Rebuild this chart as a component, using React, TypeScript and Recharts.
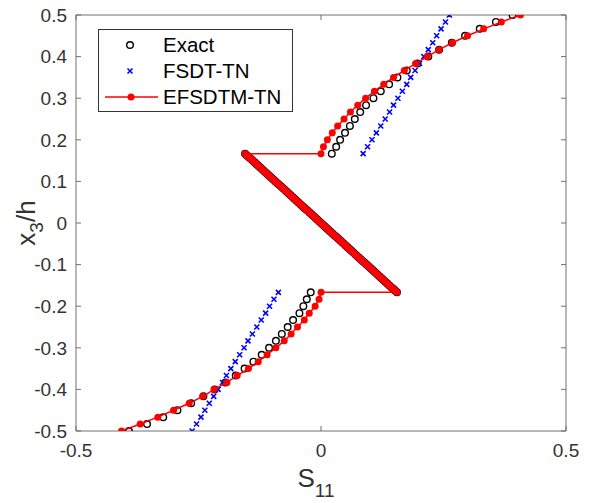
import React from 'react';
import { ScatterChart, Scatter, XAxis, YAxis, ReferenceLine } from 'recharts';

// ---------- data ----------
const topY = [0.1667, 0.1833, 0.2, 0.2167, 0.2333, 0.25, 0.2667, 0.2833, 0.3, 0.3167, 0.3333, 0.35, 0.3667, 0.3833, 0.4, 0.4167, 0.4333, 0.45, 0.4667, 0.4833, 0.5];
const botY = [-0.5, -0.4833, -0.4667, -0.45, -0.4333, -0.4167, -0.4, -0.3833, -0.3667, -0.35, -0.3333, -0.3167, -0.3, -0.2833, -0.2667, -0.25, -0.2333, -0.2167, -0.2, -0.1833, -0.1667];
const midY = [
  -0.1667, -0.1625, -0.1583, -0.1542, -0.15, -0.1458, -0.1417, -0.1375, -0.1333, -0.1292,
  -0.125, -0.1208, -0.1167, -0.1125, -0.1083, -0.1042, -0.1, -0.0958, -0.0917, -0.0875,
  -0.0833, -0.0792, -0.075, -0.0708, -0.0667, -0.0625, -0.0583, -0.0542, -0.05, -0.0458,
  -0.0417, -0.0375, -0.0333, -0.0292, -0.025, -0.0208, -0.0167, -0.0125, -0.0083, -0.0042,
  0,
  0.0042, 0.0083, 0.0125, 0.0167, 0.0208, 0.025, 0.0292, 0.0333, 0.0375, 0.0417,
  0.0458, 0.05, 0.0542, 0.0583, 0.0625, 0.0667, 0.0708, 0.075, 0.0792, 0.0833,
  0.0875, 0.0917, 0.0958, 0.1, 0.1042, 0.1083, 0.1125, 0.1167, 0.1208, 0.125,
  0.1292, 0.1333, 0.1375, 0.1417, 0.1458, 0.15, 0.1542, 0.1583, 0.1625, 0.1667,
];

// S11 values, middle layer (shared by the three solutions)
const midS = [
  0.155, 0.1511, 0.1472, 0.1434, 0.1395, 0.1356, 0.1318, 0.1279, 0.124, 0.1202,
  0.1163, 0.1124, 0.1085, 0.1046, 0.1008, 0.0969, 0.093, 0.0891, 0.0853, 0.0814,
  0.0775, 0.0736, 0.0698, 0.0659, 0.062, 0.0581, 0.0543, 0.0504, 0.0465, 0.0426,
  0.0388, 0.0349, 0.031, 0.0271, 0.0233, 0.0194, 0.0155, 0.0116, 0.0078, 0.0039,
  0,
  -0.0039, -0.0078, -0.0116, -0.0155, -0.0194, -0.0233, -0.0271, -0.031, -0.0349, -0.0388,
  -0.0426, -0.0465, -0.0504, -0.0543, -0.0581, -0.062, -0.0659, -0.0698, -0.0736, -0.0775,
  -0.0814, -0.0853, -0.0891, -0.093, -0.0969, -0.1008, -0.1046, -0.1085, -0.1124, -0.1163,
  -0.1202, -0.124, -0.1279, -0.1318, -0.1356, -0.1395, -0.1434, -0.1472, -0.1511, -0.155,
];

// Exact
const exactTop = [0.022, 0.031, 0.039, 0.049, 0.059, 0.069, 0.08, 0.092, 0.107, 0.122, 0.139, 0.156, 0.175, 0.197, 0.219, 0.241, 0.267, 0.294, 0.324, 0.357, 0.391];
const exactBot = [-0.392, -0.355, -0.322, -0.293, -0.265, -0.24, -0.217, -0.195, -0.174, -0.156, -0.138, -0.121, -0.106, -0.092, -0.08, -0.068, -0.057, -0.044, -0.036, -0.029, -0.021];

// FSDT-TN
const fsdtTop = [0.086, 0.095, 0.104, 0.113, 0.122, 0.131, 0.14, 0.148, 0.157, 0.166, 0.175, 0.183, 0.192, 0.201, 0.21, 0.219, 0.228, 0.236, 0.245, 0.254, 0.262];
const fsdtBot = [-0.263, -0.254, -0.245, -0.237, -0.228, -0.219, -0.21, -0.201, -0.193, -0.184, -0.175, -0.166, -0.157, -0.149, -0.14, -0.131, -0.122, -0.113, -0.105, -0.096, -0.087];

// EFSDTM-TN
const efTop = [0, 0.005, 0.013, 0.023, 0.034, 0.047, 0.06, 0.075, 0.091, 0.109, 0.128, 0.148, 0.17, 0.193, 0.217, 0.241, 0.268, 0.299, 0.332, 0.368, 0.407];
const efBot = [-0.407, -0.369, -0.333, -0.301, -0.269, -0.241, -0.218, -0.192, -0.171, -0.148, -0.128, -0.11, -0.092, -0.075, -0.061, -0.048, -0.034, -0.024, -0.012, -0.004, 0];

const xTicks = [-0.5, 0, 0.5];
const yTicks = [-0.5, -0.4, -0.3, -0.2, -0.1, 0, 0.1, 0.2, 0.3, 0.4, 0.5];
const legendLabels = ['Exact', 'FSDT-TN', 'EFSDTM-TN'];

const build = (bot: number[], mid: number[], top: number[]) => [
  ...bot.map((s, i) => ({ s, y: botY[i] })),
  ...mid.map((s, i) => ({ s, y: midY[i] })),
  ...top.map((s, i) => ({ s, y: topY[i] })),
];
const exactData = build(exactBot, midS, exactTop);
const fsdtData = build(fsdtBot, midS, fsdtTop);
const efData = build(efBot, midS, efTop);

// ---------- layout / style ----------
const W = 591;
const H = 503;
const PL = 76, PT = 15, PR = 566, PB = 431;
const FONT = '"Liberation Sans", Arial, Helvetica, sans-serif';
const AX = '#707070';
const TXT = '#333';
const RED = '#ff0000';
const BLUE = '#0000ff';

const fmt = (v: number) => (Math.abs(v) < 1e-9 ? '0' : v.toFixed(1));

const XTick = (p: any) => {
  const { x, y, payload } = p;
  return (
    <g>
      <line x1={x} y1={PB} x2={x} y2={PB - 5} stroke={AX} strokeWidth={1} />
      <line x1={x} y1={PT} x2={x} y2={PT + 5} stroke={AX} strokeWidth={1} />
      <text x={x} y={y} dy="0.71em" textAnchor="middle" fontFamily={FONT} fontSize={19} fill={TXT}>
        {fmt(payload.value)}
      </text>
    </g>
  );
};

const YTick = (p: any) => {
  const { x, y, payload } = p;
  return (
    <g>
      <line x1={PL} y1={y} x2={PL + 5} y2={y} stroke={AX} strokeWidth={1} />
      <line x1={PR} y1={y} x2={PR - 5} y2={y} stroke={AX} strokeWidth={1} />
      <text x={x} y={y} dy="0.355em" textAnchor="end" fontFamily={FONT} fontSize={19} fill={TXT}>
        {fmt(payload.value)}
      </text>
    </g>
  );
};

const ExactShape = (p: any) => (
  <circle cx={p.cx} cy={p.cy} r={3.3} fill="none" stroke="#000" strokeWidth={1.4} />
);
const FsdtShape = (p: any) => {
  const d = 2.5;
  return (
    <path
      d={`M${p.cx - d},${p.cy - d}L${p.cx + d},${p.cy + d}M${p.cx - d},${p.cy + d}L${p.cx + d},${p.cy - d}`}
      stroke={BLUE}
      strokeWidth={1.6}
      fill="none"
    />
  );
};
const EfShape = (p: any) => <circle cx={p.cx} cy={p.cy} r={3.5} fill={RED} />;

export default function App() {
  return (
    <div style={{ position: 'absolute', left: 0, top: 0, width: W, height: H, background: '#fff' }}>
      <ScatterChart width={W} height={H} margin={{ top: PT, right: W - PR, bottom: 0, left: 0 }}>
        <XAxis
          type="number"
          dataKey="s"
          domain={[-0.5, 0.5]}
          ticks={xTicks}
          interval={0}
          height={H - PB}
          tickSize={0}
          tickMargin={13}
          tickLine={false}
          axisLine={{ stroke: AX, strokeWidth: 1 }}
          tick={XTick}
          allowDataOverflow
        />
        <YAxis
          type="number"
          dataKey="y"
          domain={[-0.5, 0.5]}
          ticks={yTicks}
          interval={0}
          width={PL}
          tickSize={0}
          tickMargin={9}
          tickLine={false}
          axisLine={{ stroke: AX, strokeWidth: 1 }}
          tick={YTick}
          allowDataOverflow
        />
        <ReferenceLine y={0.5} stroke={AX} strokeWidth={1} />
        <ReferenceLine x={0.5} stroke={AX} strokeWidth={1} />
        <Scatter name="Exact" data={exactData} shape={ExactShape} isAnimationActive={false} />
        <Scatter name="FSDT-TN" data={fsdtData} shape={FsdtShape} isAnimationActive={false} />
        <Scatter
          name="EFSDTM-TN"
          data={efData}
          shape={EfShape}
          line={{ stroke: RED, strokeWidth: 1.5 }}
          lineType="joint"
          isAnimationActive={false}
        />
      </ScatterChart>
      <svg
        width={W}
        height={H}
        style={{ position: 'absolute', left: 0, top: 0, pointerEvents: 'none' }}
      >
        {/* legend */}
        <rect x={98.5} y={29.5} width={194} height={82} fill="#fff" stroke="#333" strokeWidth={1} />
        <circle cx={130} cy={45} r={3.3} fill="none" stroke="#000" strokeWidth={1.4} />
        <path d="M127.5,68.5L132.5,73.5M127.5,73.5L132.5,68.5" stroke={BLUE} strokeWidth={1.6} />
        <line x1={105} y1={97} x2={158} y2={97} stroke={RED} strokeWidth={1.5} />
        <circle cx={131} cy={97} r={3.5} fill={RED} />
        {legendLabels.map((t, i) => (
          <text key={t} x={163} y={52 + i * 26} fontFamily={FONT} fontSize={20.5} fill="#000">
            {t}
          </text>
        ))}
        {/* axis titles */}
        <text x={316} y={487} textAnchor="middle" fontFamily={FONT} fontSize={26} fill={TXT}>
          S<tspan fontSize={19} dy={10}>11</tspan>
        </text>
        <text
          transform="translate(35,223) rotate(-90)"
          textAnchor="middle"
          fontFamily={FONT}
          fontSize={26}
          fill={TXT}
        >
          x<tspan fontSize={19} dy={8}>3</tspan>
          <tspan dy={-8}>/h</tspan>
        </text>
      </svg>
    </div>
  );
}
